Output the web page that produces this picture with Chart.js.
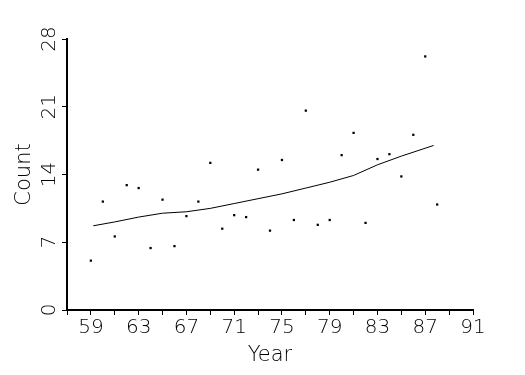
<!DOCTYPE html>
<html>
<head>
<meta charset="utf-8">
<script src="https://cdn.jsdelivr.net/npm/chart.js@4/dist/chart.umd.min.js"></script>
<style>
  html, body { margin: 0; padding: 0; background: #fff; }
  #wrap { width: 525px; height: 375px; }
</style>
</head>
<body>
<div id="wrap"><canvas id="countChart"></canvas></div>
<script>
// Данные
const years = [59, 60, 61, 62, 63, 64, 65, 66, 67, 68, 69, 70, 71, 72, 73, 74,
               75, 76, 77, 78, 79, 80, 81, 82, 83, 84, 85, 86, 87, 88];
const counts = [5.1, 11.2, 7.6, 12.9, 12.6, 6.4, 11.4, 6.6, 9.7, 11.2, 15.2, 8.4, 9.8, 9.6, 14.5, 8.2,
                15.5, 9.3, 20.6, 8.8, 9.3, 16.0, 18.3, 9.0, 15.6, 16.1, 13.8, 18.1, 26.2, 10.9];

// Сглаженная линия
const trendYears = [59.2, 61, 63, 65, 67, 69, 71, 73, 75, 77, 79, 81, 83, 85, 87.7];
const trendCounts = [8.7, 9.1, 9.6, 10.0, 10.15, 10.5, 11.0, 11.5, 12.0, 12.6, 13.2, 13.9, 15.0, 15.9, 17.0];

const xMin = 57, xMax = 91, xStep = 2;
const yMin = 0, yMax = 28, yStep = 7;
const labelYears = [59, 63, 67, 71, 75, 79, 83, 87, 91];

const fontFamily = '"DejaVu Sans", sans-serif';

const scatterPoints = years.map((y, i) => ({ x: y, y: counts[i] }));
const trendPoints = trendYears.map((y, i) => ({ x: y, y: trendCounts[i] }));

new Chart(document.getElementById('countChart'), {
    type: 'scatter',
    data: {
        datasets: [
            {
                data: scatterPoints,
                pointStyle: 'rect',
                pointRadius: 1.6,
                backgroundColor: '#000',
                borderColor: '#000',
                borderWidth: 0,
            },
            {
                type: 'line',
                data: trendPoints,
                borderColor: '#000',
                borderWidth: 1,
                pointRadius: 0,
                fill: false,
                tension: 0,
            },
        ],
    },
    options: {
        responsive: true,
        maintainAspectRatio: false,
        animation: false,
        layout: { padding: { left: 8, right: 52, top: 39, bottom: 10 } },
        plugins: {
            legend: { display: false },
            tooltip: { enabled: false },
        },
        scales: {
            x: {
                type: 'linear',
                min: xMin,
                max: xMax,
                border: { display: true, color: '#000', width: 2 },
                grid: { drawOnChartArea: false, color: '#000', tickLength: 5, lineWidth: 1 },
                ticks: {
                    stepSize: xStep,
                    autoSkip: false,
                    maxRotation: 0,
                    padding: 1,
                    color: '#000',
                    font: { family: fontFamily, size: 20, weight: '200' },
                    callback: v => labelYears.includes(v) ? String(v) : '',
                },
                title: {
                    display: true,
                    text: 'Year',
                    color: '#000',
                    padding: { top: 0, bottom: -3 },
                    font: { family: fontFamily, size: 21, weight: '200' },
                },
                afterFit: s => { s.height = 55; },
            },
            y: {
                min: yMin,
                max: yMax,
                border: { display: true, color: '#000', width: 2 },
                grid: { drawOnChartArea: false, color: '#000', tickLength: 5, lineWidth: 1 },
                ticks: {
                    stepSize: yStep,
                    minRotation: 90,
                    maxRotation: 90,
                    crossAlign: 'center',
                    padding: -1,
                    color: '#000',
                    font: { family: fontFamily, size: 20, weight: '200' },
                },
                title: {
                    display: true,
                    text: 'Count',
                    color: '#000',
                    padding: { top: 4, bottom: 0 },
                    font: { family: fontFamily, size: 21, weight: '200' },
                },
                afterFit: s => { s.width = 59; },
            },
        },
    },
});
</script>
</body>
</html>
